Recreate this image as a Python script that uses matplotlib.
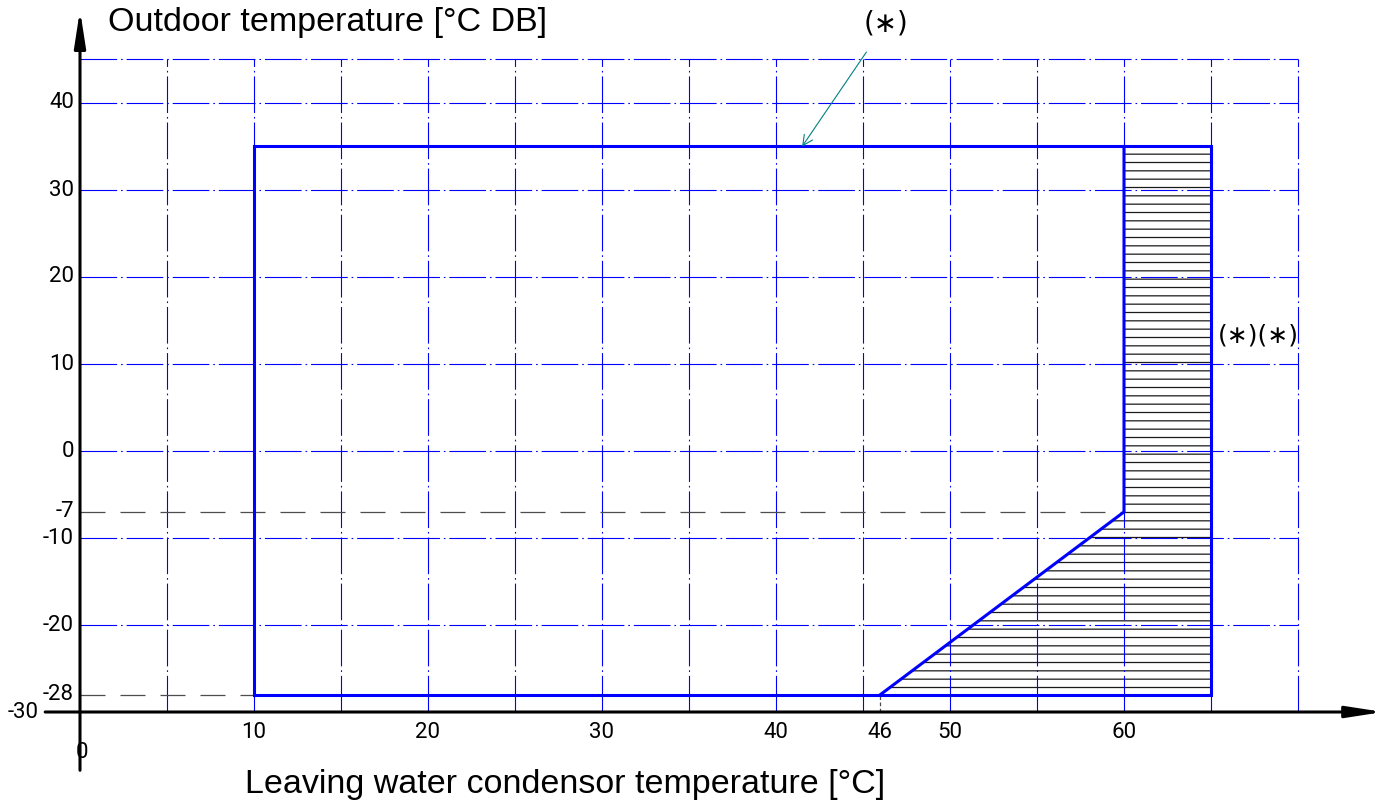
import matplotlib.pyplot as plt

plt.rcParams['hatch.linewidth'] = 0.9

# tick labels shown on the axes
x_ticks = [0, 10, 20, 30, 40, 46, 50, 60]
y_ticks = [40, 30, 20, 10, 0, -7, -10, -20, -28, -30]

# grid positions
grid_x = [5, 10, 15, 20, 25, 30, 35, 40, 45, 50, 55, 60, 65, 70]
grid_y = [-20, -10, 0, 10, 20, 30, 40, 45]

# operating envelope (leaving water temp, outdoor temp)
env_x = [10, 10, 65, 65, 10]
env_y = [-28, 35, 35, -28, -28]
limit_x = [46, 60, 60]
limit_y = [-28, -7, 35]
hatch_x = [46, 60, 60, 65, 65]
hatch_y = [-28, -7, 35, 35, -28]

# dashed reference levels and where they stop
ref_y = [-7, -28]
ref_end = [60, 10]

BLUE = '#0000ff'
TICKFONT = ['Roboto', 'DejaVu Sans']

fig = plt.figure(figsize=(13.85, 8.05), dpi=100)
ax = fig.add_axes([0, 0, 1, 1])
ax.set_xlim(-80 / 17.4, (1385 - 80) / 17.4)
ax.set_ylim((451 - 805) / 8.7, 451 / 8.7)
ax.axis('off')

# dash-dot grid
for gx in grid_x:
    l, = ax.plot([gx, gx], [-30, 45], color=BLUE, lw=0.8)
    l.set_dashes([33, 3.5, 1.5, 3.5])
for gy in grid_y:
    l, = ax.plot([0, 70], [gy, gy], color=BLUE, lw=0.8)
    l.set_dashes([33, 3.5, 1.5, 3.5])

# dashed reference lines
for yv, xe in zip(ref_y, ref_end):
    l, = ax.plot([0, xe], [yv, yv], color='0.3', lw=0.9)
    l.set_dashes([20, 12])
l, = ax.plot([limit_x[0], limit_x[0]], [-30, -28], color='0.3', lw=0.9)
l.set_dashes([3, 2])

# hatched area
ax.fill(hatch_x, hatch_y, facecolor='none', edgecolor='0.1', lw=0, hatch='--')

# envelope outline
ax.plot(env_x, env_y, color=BLUE, lw=2.2, solid_joinstyle='miter')
ax.plot(limit_x, limit_y, color=BLUE, lw=2.2)

# axes with arrows
ax.annotate('', xy=(0, 50.7), xytext=(0, -36.7),
            arrowprops=dict(arrowstyle='-|>,head_length=1.1,head_width=0.17',
                            lw=2.2, color='black', mutation_scale=20,
                            shrinkA=0, shrinkB=0))
ax.annotate('', xy=(74.9, -30), xytext=(-2, -30),
            arrowprops=dict(arrowstyle='-|>,head_length=1.1,head_width=0.17',
                            lw=2.2, color='black', mutation_scale=20,
                            shrinkA=0, shrinkB=0))

# tick labels
for yt in y_ticks:
    xpos = -2.4 if yt == -30 else -0.35
    ax.text(xpos, yt, str(yt), ha='right', va='center', fontsize=16, family=TICKFONT)
for xt in x_ticks:
    if xt == 0:
        ax.text(0.1, -34.7, '0', ha='center', va='center', fontsize=16, family=TICKFONT)
    else:
        ax.text(xt, -32.4, str(xt), ha='center', va='center', fontsize=16, family=TICKFONT)

# axis titles
ax.text(1.6, 49.3, 'Outdoor temperature [°C DB]', ha='left', va='center',
        fontsize=24.5, family='Liberation Sans')
ax.text(9.5, -38.3, 'Leaving water condensor temperature [°C]', ha='left', va='center',
        fontsize=24.5, family='Liberation Sans')

# notes
ax.annotate('(∗)', xy=(41.5, 35), xytext=(46.3, 49.1), ha='center', va='center',
            fontsize=20, family='DejaVu Sans',
            arrowprops=dict(arrowstyle='->', color='#008080', lw=0.8,
                            shrinkA=10, shrinkB=0, mutation_scale=18))
ax.text(67.7, 13.3, '(∗)(∗)', ha='center', va='center', fontsize=18,
        family='DejaVu Sans')

fig.savefig('out.png', dpi=100)
